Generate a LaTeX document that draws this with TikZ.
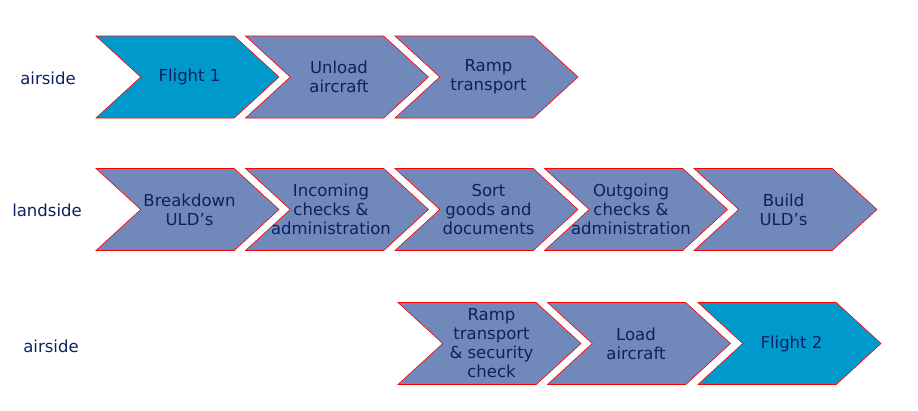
\documentclass[tikz,border=0pt]{standalone}
\usepackage{fontspec}
\setmainfont{DejaVu Sans}
\usetikzlibrary{shapes.symbols}

\definecolor{flightblue}{RGB}{0,153,204}
\definecolor{stepblue}{RGB}{112,137,186}
\definecolor{textnavy}{RGB}{12,33,96}

\tikzset{
  stepbox/.style={shape=signal, signal from=west, signal to=east,
    signal pointer angle=85, minimum width=183pt, minimum height=82pt,
    inner sep=0pt, fill=stepblue, draw=red, line width=0.6pt},
  flightbox/.style={stepbox, fill=flightblue},
  steptext/.style={align=center, text=textnavy, inner sep=0pt,
    font=\fontsize{16.5}{19}\selectfont},
  rowlabel/.style={text=textnavy, font=\fontsize{16.5}{19}\selectfont}
}

\begin{document}
\begin{tikzpicture}[x=1pt,y=1pt]
  \useasboundingbox (0,0) rectangle (918,-410);
  % airside, incoming
  \node[rowlabel] (air1) at (48,-78) {airside};
  \node[flightbox] (flight1) at (187.5,-77) {};
  \node[steptext] (flight1-t) at ([xshift=2pt]flight1) {Flight 1};
  \node[stepbox] (unload) at (337,-77) {};
  \node[steptext] (unload-t) at ([xshift=2pt]unload) {Unload\\aircraft};
  \node[stepbox] (rampin) at (486.5,-77) {};
  \node[steptext] (rampin-t) at ([xshift=2pt]rampin) {Ramp\\transport};
  % landside
  \node[rowlabel] (land) at (47,-210) {landside};
  \node[stepbox] (breakdown) at (187.5,-209.5) {};
  \node[steptext] (breakdown-t) at ([xshift=2pt]breakdown) {Breakdown\\ULD’s};
  \node[stepbox] (incoming) at (337,-209.5) {};
  \node[steptext] (incoming-t) at ([xshift=-6pt]incoming) {Incoming\\checks \&\\administration};
  \node[stepbox] (sort) at (486.5,-209.5) {};
  \node[steptext] (sort-t) at ([xshift=2pt]sort) {Sort\\goods and\\documents};
  \node[stepbox] (outgoing) at (636,-209.5) {};
  \node[steptext] (outgoing-t) at ([xshift=-5pt]outgoing) {Outgoing\\checks \&\\administration};
  \node[stepbox] (build) at (785.5,-209.5) {};
  \node[steptext] (build-t) at ([xshift=-2pt]build) {Build\\ULD’s};
  % airside, outgoing
  \node[rowlabel] (air2) at (51,-346) {airside};
  \node[stepbox] (rampout) at (489.5,-343.5) {};
  \node[steptext] (rampout-t) at ([xshift=2pt]rampout) {Ramp\\transport\\\& security\\check};
  \node[stepbox] (load) at (639,-343.5) {};
  \node[steptext] (load-t) at ([xshift=-3pt]load) {Load\\aircraft};
  \node[flightbox] (flight2) at (789.5,-343.5) {};
  \node[steptext] (flight2-t) at ([xshift=2pt]flight2) {Flight 2};
\end{tikzpicture}
\end{document}
